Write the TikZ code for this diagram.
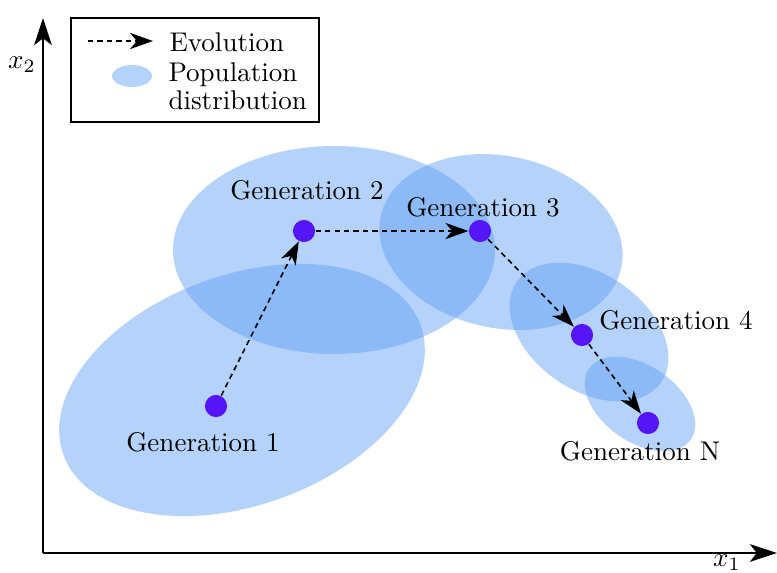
\documentclass[tikz,border=0pt]{standalone}
\usepackage{amsmath,amssymb}
\usepackage{tikz}
\usetikzlibrary{arrows.meta}

\definecolor{popblue}{RGB}{90,156,244}
\definecolor{genpurple}{RGB}{85,22,245}

\tikzset{
  pop/.style={fill=popblue, fill opacity=0.45, draw=none},
  gen/.style={circle, fill=genpurple, inner sep=0pt, minimum size=8.2pt},
  evol/.style={semithick, dash pattern=on 2pt off 1.5pt, -{Stealth[length=8.5pt,width=6pt,inset=2.5pt]}},
  axis/.style={line width=0.8pt, -{Stealth[length=10pt,width=6.5pt,inset=2.5pt]}}
}

\begin{document}
\begin{tikzpicture}[x=0.013cm,y=0.013cm]
\useasboundingbox (0,0) rectangle (777,572);

% population distributions
\fill[pop, rotate around={20:(242,182)}] (242,182) ellipse [x radius=190, y radius=115];
\fill[pop] (334,322) ellipse [x radius=161, y radius=104];
\fill[pop, rotate around={-12:(501,330)}] (501,330) ellipse [x radius=123, y radius=86];
\fill[pop, rotate around={-35:(589,240)}] (589,240) ellipse [x radius=88, y radius=58];
\fill[pop, rotate around={-35:(640,168)}] (640,168) ellipse [x radius=62, y radius=38];

% axes
\coordinate (o) at (43,19);
\coordinate (xend) at (777,19);
\coordinate (yend) at (43,554);
\draw[axis] (o) -- (xend);
\draw[axis] (o) -- (yend);
\node (xlab) at (727,9) {$x_1$};
\node (ylab) at (22,507) {$x_2$};

% generations
\node[gen] (g1) at (216,166) {};
\node[gen] (g2) at (304,341) {};
\node[gen] (g3) at (480,341) {};
\node[gen] (g4) at (582,237) {};
\node[gen] (gn) at (648,149) {};

\node (l1) at (203,130) {Generation 1};
\node (l2) at (307,382) {Generation 2};
\node (l3) at (483,365) {Generation 3};
\node (l4) at (676,252) {Generation 4};
\node (ln) at (640,121) {Generation N};

\draw[evol] (g1) -- (g2);
\draw[evol] (g2) -- (g3);
\draw[evol] (g3) -- (g4);
\draw[evol] (g4) -- (gn);

% legend
\draw[semithick, fill=white] (71,450) rectangle (319,554);
\coordinate (la) at (88,531);
\coordinate (lb) at (153,531);
\draw[evol] (la) -- (lb);
\fill[pop] (132,496) ellipse [x radius=20, y radius=11];
\node[anchor=west, inner sep=0pt] (tevol) at (169,530) {Evolution};
\node[anchor=west, inner sep=0pt] (tpop) at (168,497) {Population};
\node[anchor=west, inner sep=0pt] (tdist) at (168,472) {distribution};

\end{tikzpicture}
\end{document}
